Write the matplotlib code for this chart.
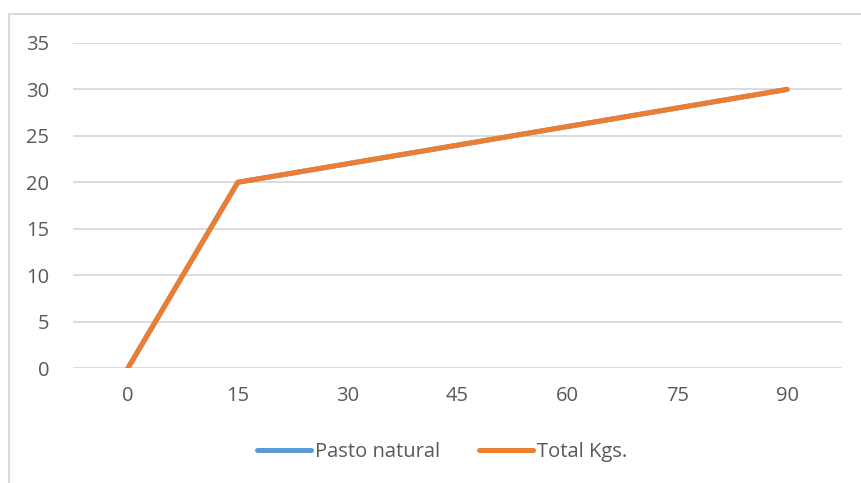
import matplotlib.pyplot as plt
from matplotlib.patches import Rectangle

# Days and kilograms for each series
dias = ['0', '15', '30', '45', '60', '75', '90']
pasto_natural = [0, 20, 22, 24, 26, 28, 30]
total_kgs = [0, 20, 22, 24, 26, 28, 30]

plt.rcParams['font.family'] = ['Open Sans', 'DejaVu Sans']
texto = '#595959'
rejilla = '#D9D9D9'

fig = plt.figure(figsize=(8.61, 4.83), dpi=100)
ax = fig.add_axes([0.0848, 0.238, 0.8932, 0.673])

x = range(len(dias))
ax.plot(x, pasto_natural, color='#5B9BD5', lw=3.6, solid_capstyle='round',
        label='Pasto natural')
ax.plot(x, total_kgs, color='#ED7D31', lw=3.6, solid_capstyle='round',
        label='Total Kgs.')

ax.set_xlim(-0.5, len(dias) - 0.5)
ax.set_ylim(0, 35)
ax.set_yticks(range(0, 36, 5))
ax.set_xticks(list(x))
ax.set_xticklabels(dias)
ax.tick_params(length=0, labelsize=14.5, colors=texto)
ax.tick_params(axis='y', pad=17)
ax.tick_params(axis='x', pad=13)
ax.grid(axis='y', color=rejilla, lw=1.3)
ax.set_axisbelow(True)
for s in ax.spines.values():
    s.set_visible(False)

fig.legend(loc='center', bbox_to_anchor=(442 / 861, 1 - 452 / 483), ncol=2,
           frameon=False, fontsize=14.5, labelcolor=texto, handlelength=2.7,
           handletextpad=0.2, columnspacing=1.9)

# chart area border
fig.patches.append(Rectangle((9 / 861, -0.1), 1.2, 1 - 14 / 483 + 0.1,
                             transform=fig.transFigure, fill=False,
                             edgecolor=rejilla, lw=1.5))

fig.savefig('out.png', dpi=100)
